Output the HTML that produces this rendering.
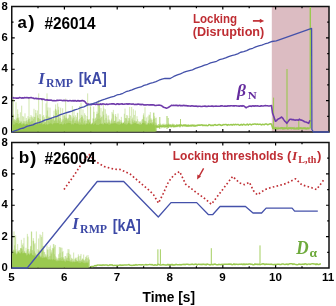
<!DOCTYPE html>
<html><head><meta charset="utf-8"><style>
html,body{margin:0;padding:0;background:#fff;width:336px;height:306px;overflow:hidden}
svg{display:block;will-change:transform}
text{font-family:"Liberation Sans",sans-serif}
.tk{font-family:"Liberation Sans",sans-serif;font-weight:bold;font-size:11px}
.sb{font-family:"Liberation Sans",sans-serif;font-weight:bold}
.sbi{font-family:"Liberation Serif",serif;font-weight:bold;font-style:italic}
.srb{font-family:"Liberation Serif",serif;font-weight:bold}
</style></head><body>
<svg width="336" height="306" viewBox="0 0 336 306">
<rect width="336" height="306" fill="#fff"/>
<rect x="271.8" y="6.5" width="57.2" height="125.5" fill="#dcbcc2"/>
<rect x="11.75" y="6.5" width="317.25" height="125.5" fill="none" stroke="#111" stroke-width="1.5"/>
<path d="M38 6.5v1.8M38 132v-1.8M64.4 6.5v3M64.4 132v-3M90.8 6.5v1.8M90.8 132v-1.8M117.2 6.5v3M117.2 132v-3M143.6 6.5v1.8M143.6 132v-1.8M170 6.5v3M170 132v-3M196.4 6.5v1.8M196.4 132v-1.8M222.8 6.5v3M222.8 132v-3M249.2 6.5v1.8M249.2 132v-1.8M275.6 6.5v3M275.6 132v-3M302 6.5v1.8M302 132v-1.8M11.75 116.31h1.8M329 116.31h-1.8M11.75 100.62h3M329 100.62h-3M11.75 84.94h1.8M329 84.94h-1.8M11.75 69.25h3M329 69.25h-3M11.75 53.56h1.8M329 53.56h-1.8M11.75 37.88h3M329 37.88h-3M11.75 22.19h1.8M329 22.19h-1.8" stroke="#000" stroke-width="1.2" fill="none"/>
<text x="7.9" y="135.2" text-anchor="end" class="tk" style="font-size:11.3px">0</text>
<text x="7.9" y="103.83" text-anchor="end" class="tk" style="font-size:11.3px">2</text>
<text x="7.9" y="72.45" text-anchor="end" class="tk" style="font-size:11.3px">4</text>
<text x="7.9" y="41.08" text-anchor="end" class="tk" style="font-size:11.3px">6</text>
<text x="7.9" y="9.7" text-anchor="end" class="tk" style="font-size:11.3px">8</text>
<rect x="11.75" y="142.5" width="317.25" height="125.5" fill="none" stroke="#111" stroke-width="1.5"/>
<path d="M38 142.5v1.8M38 268v-1.8M64.4 142.5v3M64.4 268v-3M90.8 142.5v1.8M90.8 268v-1.8M117.2 142.5v3M117.2 268v-3M143.6 142.5v1.8M143.6 268v-1.8M170 142.5v3M170 268v-3M196.4 142.5v1.8M196.4 268v-1.8M222.8 142.5v3M222.8 268v-3M249.2 142.5v1.8M249.2 268v-1.8M275.6 142.5v3M275.6 268v-3M302 142.5v1.8M302 268v-1.8M11.75 252.31h1.8M329 252.31h-1.8M11.75 236.62h3M329 236.62h-3M11.75 220.94h1.8M329 220.94h-1.8M11.75 205.25h3M329 205.25h-3M11.75 189.56h1.8M329 189.56h-1.8M11.75 173.88h3M329 173.88h-3M11.75 158.19h1.8M329 158.19h-1.8" stroke="#000" stroke-width="1.2" fill="none"/>
<text x="7.9" y="271.2" text-anchor="end" class="tk" style="font-size:11.3px">0</text>
<text x="7.9" y="239.82" text-anchor="end" class="tk" style="font-size:11.3px">2</text>
<text x="7.9" y="208.45" text-anchor="end" class="tk" style="font-size:11.3px">4</text>
<text x="7.9" y="177.07" text-anchor="end" class="tk" style="font-size:11.3px">6</text>
<text x="7.9" y="145.7" text-anchor="end" class="tk" style="font-size:11.3px">8</text>
<text x="11.4" y="281.2" text-anchor="middle" class="tk" style="font-size:11.6px">5</text>
<text x="64.2" y="281.2" text-anchor="middle" class="tk" style="font-size:11.6px">6</text>
<text x="117" y="281.2" text-anchor="middle" class="tk" style="font-size:11.6px">7</text>
<text x="169.8" y="281.2" text-anchor="middle" class="tk" style="font-size:11.6px">8</text>
<text x="222.6" y="281.2" text-anchor="middle" class="tk" style="font-size:11.6px">9</text>
<text x="275.4" y="281.2" text-anchor="middle" class="tk" style="font-size:11.6px">10</text>
<text x="328.2" y="281.2" text-anchor="middle" class="tk" style="font-size:11.6px">11</text>
<path d="M12.67 131.4V120.32M13 131.4V121.03M13.34 131.4V96.43M13.67 131.4V114.53M14 131.4V119.29M14.34 131.4V119.38M14.67 131.4V121.51M15 131.4V120.15M15.34 131.4V121.9M15.67 131.4V120.13M16 131.4V102.25M16.35 131.4V118.78M16.68 131.4V121.07M17 131.4V117.58M17.35 131.4V118.28M17.68 131.4V109.36M18 131.4V114.06M18.35 131.4V118.17M18.68 131.4V119.76M19 131.4V117.26M19.35 131.4V120.71M19.68 131.4V123.03M20 131.4V123.43M20.35 131.4V112.28M20.68 131.4V122.28M21 131.4V120.92M21.35 131.4V121.79M21.68 131.4V105.66M22 131.4V124.31M22.35 131.4V122.87M22.68 131.4V116.12M23 131.4V123.73M23.35 131.4V121.28M23.68 131.4V116.63M24 131.4V123.29M24.35 131.4V123.4M24.68 131.4V121.22M25 131.4V113.32M25.35 131.4V121.34M25.68 131.4V123.91M26 131.4V124.63M26.35 131.4V117.96M26.68 131.4V121.02M27 131.4V120.12M27.35 131.4V123.46M27.68 131.4V121.9M28 131.4V116.17M28.35 131.4V119.78M28.68 131.4V118.66M29 131.4V96.82M29.35 131.4V121.69M29.68 131.4V118.83M30 131.4V117.08M30.35 131.4V121.71M30.68 131.4V122.1M31 131.4V115.03M31.35 131.4V121.16M31.68 131.4V116.45M32 131.4V120.75M32.34 131.4V117.7M32.68 131.4V120.92M33.01 131.4V116.55M33.35 131.4V123.4M33.68 131.4V118.83M34.01 131.4V108.75M34.35 131.4V116.99M34.68 131.4V123.02M35.01 131.4V116.9M35.35 131.4V123.24M35.68 131.4V109.98M36.01 131.4V113.12M36.35 131.4V123.31M36.68 131.4V122.94M37.01 131.4V122.93M37.35 131.4V110.51M37.68 131.4V115.4M38.01 131.4V117.98M38.35 131.4V117.87M38.68 131.4V93.4M39.01 131.4V123.78M39.35 131.4V118.85M39.68 131.4V114.2M40.01 131.4V121.9M40.35 131.4V119.13M40.68 131.4V114.33M41.01 131.4V120.71M41.35 131.4V122.85M41.68 131.4V120.86M42.01 131.4V122.35M42.35 131.4V97.92M42.68 131.4V116.25M43.01 131.4V120.15M43.35 131.4V124.2M43.68 131.4V115.03M44.01 131.4V119.3M44.35 131.4V117.26M44.68 131.4V122.53M45.01 131.4V122.33M45.35 131.4V122.44M45.68 131.4V121.66M46.01 131.4V103.39M46.35 131.4V115.53M46.68 131.4V119.15M47.01 131.4V93.4M47.35 131.4V110.49M47.68 131.4V124.69M48.01 131.4V107.41M48.35 131.4V116.67M48.68 131.4V121.32M49.01 131.4V117.42M49.35 131.4V116.8M49.68 131.4V121.65M50.01 131.4V107.67M50.35 131.4V117.49M50.68 131.4V117.44M51.01 131.4V120.41M51.35 131.4V117.31M51.68 131.4V118.12M52.01 131.4V118.68M52.35 131.4V119.61M52.68 131.4V118.77M53.01 131.4V123.95M53.35 131.4V117.87M53.68 131.4V115.19M54.01 131.4V110.65M54.35 131.4V120.77M54.68 131.4V120.81M55.01 131.4V119.8M55.35 131.4V108.74M55.68 131.4V104.46M56.01 131.4V109.33M56.35 131.4V112.9M56.68 131.4V110.61M57.01 131.4V120.78M57.35 131.4V122.84M57.68 131.4V103.32M58.01 131.4V119.2M58.35 131.4V109.8M58.68 131.4V106.73M59.01 131.4V119.6M59.35 131.4V114.7M59.68 131.4V121.15M60.01 131.4V118.08M60.35 131.4V118.14M60.68 131.4V107.71M61.01 131.4V123.9M61.35 131.4V122.17M61.68 131.4V121.75M62.01 131.4V119.4M62.35 131.4V120.75M62.68 131.4V108.28M63.01 131.4V124.08M63.35 131.4V118.99M63.68 131.4V115.45M64 131.4V120.89M64.34 131.4V114.48M64.67 131.4V115.86M65 131.4V117.78M65.34 131.4V119.78M65.67 131.4V98.57M66 131.4V117.92M66.34 131.4V117.5M66.67 131.4V111.56M67 131.4V118.84M67.34 131.4V118.7M67.67 131.4V119.69M68 131.4V121.22M68.34 131.4V117.71M68.67 131.4V118.49M69 131.4V114.52M69.34 131.4V120.61M69.67 131.4V114.71M70 131.4V115.1M70.34 131.4V121.03M70.67 131.4V115.01M71 131.4V116.22M71.34 131.4V121.15M71.67 131.4V123.53M72 131.4V117.51M72.34 131.4V105.94M72.67 131.4V119.31M73 131.4V120.53M73.34 131.4V117.88M73.67 131.4V115.66M74 131.4V109.37M74.34 131.4V124.08M74.67 131.4V117.22M75 131.4V121.3M75.34 131.4V120.64M75.67 131.4V115.27M76 131.4V122.98M76.34 131.4V119.48M76.67 131.4V117.16M77 131.4V121.4M77.34 131.4V112.89M77.67 131.4V112.84M78 131.4V120.96M78.34 131.4V123.16M78.67 131.4V122.08M79 131.4V120.32M79.34 131.4V119.03M79.67 131.4V105.99M80 131.4V122.67M80.34 131.4V122.53M80.67 131.4V117.89M81 131.4V102.83M81.34 131.4V114.9M81.67 131.4V116.88M82 131.4V120.13M82.34 131.4V117.27M82.67 131.4V115.55M83 131.4V109.37M83.34 131.4V122.53M83.67 131.4V118.53M84 131.4V123.19M84.34 131.4V120.96M84.67 131.4V113.27M85 131.4V120.39M85.34 131.4V114.96M85.67 131.4V123.38M86 131.4V124.58M86.34 131.4V120.7M86.67 131.4V123.45M87 131.4V116.06M87.34 131.4V119.06M87.67 131.4V93.4M88 131.4V120.87M88.34 131.4V119.43M88.67 131.4V120.18M89 131.4V119.79M89.34 131.4V118.97M89.67 131.4V122.21M90 131.4V121.53M90.34 131.4V105.69M90.67 131.4V106.97M91 131.4V124M91.34 131.4V123.55M91.67 131.4V123.65M92 131.4V124.19M92.34 131.4V122.61M92.67 131.4V122.79M93 131.4V118.25M93.34 131.4V118.88M93.67 131.4V106.66M94 131.4V111.84M94.34 131.4V122.37M94.67 131.4V121.23M95 131.4V119.03M95.34 131.4V118.09M95.67 131.4V121.1M96 131.4V117.33M96.34 131.4V120.08M96.67 131.4V114.1M97 131.4V111.59M97.34 131.4V113.81M97.67 131.4V118.7M98 131.4V101.31M98.34 131.4V113.17M98.67 131.4V100.03M99 131.4V119.07M99.34 131.4V105.76M99.67 131.4V102.89M100 131.4V115.31M100.34 131.4V119.85M100.67 131.4V117.96M101 131.4V107.97M101.34 131.4V116.87M101.67 131.4V123.6M102 131.4V116.55M102.34 131.4V122.89M102.67 131.4V111.39M103 131.4V124.08M103.34 131.4V103.96M103.67 131.4V114.82M104 131.4V108.49M104.34 131.4V124.24M104.67 131.4V119.78M105 131.4V122.48M105.34 131.4V109.22M105.67 131.4V123.41M106 131.4V118.03M106.34 131.4V113.72M106.67 131.4V122.34M107 131.4V115.55M107.34 131.4V122.73M107.67 131.4V123.41M108 131.4V119.68M108.34 131.4V122.62M108.67 131.4V115.4M109 131.4V121.87M109.34 131.4V119.59M109.67 131.4V122.88M110 131.4V120.68M110.34 131.4V122.63M110.67 131.4V123.62M111 131.4V123.83M111.34 131.4V120.41M111.67 131.4V118.6M112 131.4V111.93M112.34 131.4V123.18M112.67 131.4V113.6M113 131.4V121.76M113.34 131.4V109.88M113.67 131.4V114.44M114 131.4V123.43M114.34 131.4V121M114.67 131.4V121.12M115 131.4V120.61M115.34 131.4V115.92M115.67 131.4V114.03M116 131.4V123.02M116.34 131.4V122.7M116.67 131.4V116.88M117 131.4V121.68M117.34 131.4V122.69M117.67 131.4V121.77M118 131.4V113.47M118.34 131.4V121.7M118.67 131.4V121.41M119 131.4V122.94M119.34 131.4V119.15M119.67 131.4V121.72M120 131.4V120.3M120.34 131.4V122.21M120.67 131.4V124.22M121 131.4V120.14M121.34 131.4V116.82M121.67 131.4V121.66M122 131.4V122.88M122.34 131.4V122.65M122.67 131.4V123.83M123 131.4V123.84M123.34 131.4V122.86M123.67 131.4V122.46M124 131.4V122.52M124.34 131.4V113.74M124.67 131.4V121.14M125 131.4V108.58M125.34 131.4V118.03M125.67 131.4V122.8M126 131.4V118.21M126.34 131.4V118.41M126.67 131.4V115.01M127 131.4V122.98M127.34 131.4V124.74M127.67 131.4V115.46M128 131.4V120.51M128.34 131.4V121.26M128.67 131.4V118.03M129 131.4V122.62M129.34 131.4V118.21M129.67 131.4V106.94M130 131.4V120.61M130.34 131.4V115.84M130.67 131.4V123.25M131 131.4V124.46M131.34 131.4V124.46M131.67 131.4V106.99M132 131.4V119.15M132.34 131.4V121.56M132.67 131.4V117.56M133 131.4V120.11M133.34 131.4V109.22M133.67 131.4V121.9M134 131.4V122.69M134.34 131.4V114.93M134.67 131.4V120.48M135 131.4V120.82M135.34 131.4V110.53M135.67 131.4V122.62M136 131.4V121.41M136.34 131.4V122.2M136.67 131.4V121.04M137 131.4V116.19M137.34 131.4V124.06M137.67 131.4V119.24M138 131.4V123.09M138.34 131.4V123.91M138.67 131.4V121.2M139 131.4V123.54M139.34 131.4V123.98M139.67 131.4V122.06M140 131.4V121.21M140.34 131.4V123.17M140.67 131.4V122.74M141 131.4V121.41M141.34 131.4V124.59M141.67 131.4V124.18M142 131.4V119.84M142.34 131.4V118.89M142.67 131.4V122.67M143 131.4V119.35M143.34 131.4V115.21M143.67 131.4V113.35M144 131.4V116.81M144.34 131.4V120.43M144.67 131.4V121.32M145 131.4V107.28M145.34 131.4V122.98M145.67 131.4V120.92M146 131.4V121.51M146.34 131.4V117.48M146.67 131.4V124.21M147 131.4V124.66M147.34 131.4V122.53M147.67 131.4V123.49M148 131.4V116.39M148.34 131.4V124.22M148.67 131.4V120.53M149 131.4V114.54M149.34 131.4V122.82M149.67 131.4V115.11M150 131.4V119.53M150.34 131.4V112.07M150.67 131.4V123.05M151 131.4V118.11M151.34 131.4V122.89M151.67 131.4V119.46M152 131.4V119.97M152.34 131.4V123.03M152.67 131.4V122.25M153 131.4V122.31M153.34 131.4V118.77M153.67 131.4V123.58M154 131.4V123.98M154.34 131.4V118.97M154.67 131.4V116.3M155 131.4V122.43M155.34 131.4V118.06M155.67 131.4V124.85M156 131.4V122.91M156.34 131.4V117.63" stroke="#9ac94f" stroke-width="0.45" fill="none"/>
<polygon points="12.45,131.4 12.45,124.49 13.45,124.44 14.45,124.69 15.45,123.32 16.45,123.05 17.45,123.05 18.45,124.35 19.45,123.49 20.45,122.85 21.45,124.38 22.45,124.69 23.45,123.41 24.45,124.85 25.45,124.93 26.45,123.85 27.45,124.05 28.45,125 29.45,123.61 30.45,124.89 31.45,124.21 32.45,124.96 33.45,124.6 34.45,124.04 35.45,124.52 36.45,124.4 37.45,123.24 38.45,124.67 39.45,122.94 40.45,124.26 41.45,122.99 42.45,124.64 43.45,124.26 44.45,123.82 45.45,125.01 46.45,124.07 47.45,124.87 48.45,124.23 49.45,123.78 50.45,123.26 51.45,123.44 52.45,124.86 53.45,123.25 54.45,123.24 55.45,123.28 56.45,123.13 57.45,123.23 58.45,122.92 59.45,124.46 60.45,124.08 61.45,123.47 62.45,124.69 63.45,124.61 64.45,122.88 65.45,124.54 66.45,123.28 67.45,123.18 68.45,122.86 69.45,123.1 70.45,123 71.45,124.82 72.45,124.04 73.45,124.76 74.45,122.91 75.45,123.21 76.45,123.91 77.45,123.61 78.45,124.28 79.45,124.63 80.45,124.43 81.45,124.23 82.45,124.77 83.45,124.6 84.45,124.13 85.45,124.96 86.45,123.6 87.45,123.39 88.45,124.59 89.45,122.87 90.45,124.5 91.45,124.72 92.45,123.21 93.45,124.93 94.45,124.08 95.45,123 96.45,125.02 97.45,124.64 98.45,124.89 99.45,124.13 100.45,123.62 101.45,123.98 102.45,124.25 103.45,124.82 104.45,122.83 105.45,123.66 106.45,124.27 107.45,123.78 108.45,124.42 109.45,124.68 110.45,124.49 111.45,123.38 112.45,123.74 113.45,123.57 114.45,123.27 115.45,123.17 116.45,123.98 117.45,124.25 118.45,124.56 119.45,124.86 120.45,124.24 121.45,122.93 122.45,124.08 123.45,122.78 124.45,124.36 125.45,124.25 126.45,124.85 127.45,124.19 128.45,123.11 129.45,123.21 130.45,124.57 131.45,124.61 132.45,124.32 133.45,123.61 134.45,123.25 135.45,123.01 136.45,124.09 137.45,124.11 138.45,124.32 139.45,124.96 140.45,124.79 141.45,124.59 142.45,122.89 143.45,122.82 144.45,123.14 145.45,124.42 146.45,124.7 147.45,124.9 148.45,122.86 149.45,124.73 150.45,123.06 151.45,123.9 152.45,124.71 153.45,124.1 154.45,125.79 155.45,124.87 155.45,131.4" fill="#9ac94f"/>
<polyline points="155.5,127 156.62,126.75 157.75,126.67 158.88,126.87 160,126.2 161,126.14 162,126.16 163,126.23 164,125.76 165,126.1 166,126.21 167,126.36 168,125.57 169,125.78 170,125.52 171,126.29 172,126.14 173,125.4 174,126.42 175,126.37 176,126.01 177,125.94 178,125.42 179,125.24 180,125.78 181,125.24 182,125.36 183,125.4 184,125.14 185,125.6 186,125.55 187,125.97 188,125.59 189,125.7 190,125.52 191,125.68 192,125.43 193,125.21 194,125.98 195,125.96 196,125.76 197,125.6 198,125.14 199,125.03 200,125.3 201.01,125.05 202.01,124.8 203.02,125.55 204.03,125.13 205.04,125.6 206.04,125.08 207.05,125.7 208.06,125.56 209.06,124.61 210.07,124.83 211.08,125.58 212.08,125.08 213.09,125.63 214.1,124.97 215.11,124.6 216.11,125.19 217.12,125.34 218.13,124.77 219.13,124.55 220.14,124.81 221.15,125.49 222.15,125.24 223.16,124.52 224.17,124.65 225.18,124.47 226.18,124.41 227.19,125.21 228.2,124.51 229.2,124.92 230.21,124.78 231.22,124.48 232.23,125.06 233.23,124.38 234.24,124.93 235.25,124.34 236.25,124.66 237.26,124.41 238.27,124.46 239.27,125.21 240.28,125.01 241.29,124.45 242.3,125.07 243.3,124.32 244.31,124.5 245.32,124.99 246.32,124.74 247.33,124.13 248.34,125.09 249.35,124.23 250.35,124.26 251.36,124.81 252.37,124.31 253.37,124.25 254.38,123.99 255.39,124 256.39,124.52 257.4,124.13 258.41,124.51 259.42,124.24 260.42,124.32 261.43,124.86 262.44,124.32 263.44,124.41 264.45,124.71 265.46,123.94 266.46,123.9 267.47,124.71 268.48,124.6 269.49,123.96 270.49,123.87 271.5,124.2 272.8,128.3 273.82,128.57 274.84,128.8 275.86,127.99 276.88,128.83 277.9,128.76 278.92,128.46 279.94,128.27 280.96,127.93 281.98,127.87 282.99,128.89 284.01,128.1 285.03,128.63 286.05,128.14 287.07,128.77 288.09,128.53 289.11,128.21 290.13,128.08 291.15,128.69 292.17,127.98 293.19,128.17 294.21,128.54 295.23,128.87 296.25,128.62 297.27,128.26 298.29,128.97 299.31,128.19 300.32,127.99 301.34,128.28 302.36,128.48 303.38,128.07 304.4,128.2 305.42,128.42 306.44,128.65 307.46,128.18 308.48,128.44 309.5,128.6" fill="none" stroke="#9ac94f" stroke-width="1.5"/>
<path d="M156 125.2V126.98M156.5 124.51V128M157 124.96V126.96M157.5 124.8V128.1M158 124.95V128.04M158.5 124.04V126.96M159 124.26V127.49M159.5 124.48V128.43M160 125.03V126.71M160.5 123.57V127.36M161 124.85V127.22M161.5 124.56V128.26M162 124.83V126.99M162.5 124.2V127.53M163 123.59V128M163.5 124.58V126.93M164 123.79V128.2M164.5 125.12V127.76M165 123.75V127.61M165.5 124.81V127.82M166 123.99V126.84M166.5 124.13V126.86M167 125.08V127.03M167.5 124.62V127.11M168 124.14V127.78M168.5 123.66V127.97M169 123.61V127.66M169.5 124.67V126.71M170 124.19V127.25M170.5 124.12V126.55M171 124.84V127.77M171.5 124.23V127.41M172 124.98V126.96M172.5 123.79V127.31M173 123.68V126.63M173.5 124.46V127.48M174 124.47V127.45M174.5 124.31V126.48M175 124.96V127.67M175.5 124.93V126.55M176 124.63V127.25M176.5 123.93V126.9M177 124.42V127.3M177.5 124.72V126.72M178 124.28V127.05M178.5 125.03V126.35M179 124.9V127.12M179.5 124.2V127.41M180 124.11V126.48M180.5 124.12V127.37M181 124.64V126.14M181.5 124.62V126.46M182 124.86V126.16M182.5 124.92V127.12M183 125.01V126.8M183.5 124.82V126.29M184 124.12V126.39M184.5 124.85V126.55M185 124.28V126.61M185.5 124.11V126.45M186 124.48V126.77M186.5 124.56V126.75M187 124.55V126.11M187.5 124.92V126.77M188 124.28V126.91M188.5 124.34V126.51M189 124.88V126.77M189.5 124.92V126.32M190 124.9V126.25M190.5 124.74V126.28M191 124.36V126.37M191.5 124.81V126.57M192 124.35V126.59M192.5 125V126.37M193 124.23V126.03M193.5 124.85V126.5M194 124.71V126.12M194.5 124.32V126.08M195 124.85V125.92M195.5 124.73V126.3M196 124.72V126.34M196.5 124.96V125.9M197 124.52V126.06M197.5 124.62V126.39M198 124.8V125.79M198.5 124.98V126M199 124.79V125.97M199.5 125V125.61M200 124.73V126.13" stroke="#9ac94f" stroke-width="0.5" fill="none"/>
<path d="M272.5 127.5V128.63M273 127.29V129.31M273.5 127.1V129.14M274 127.5V128.93M274.5 126.78V128.95M275 126.68V129.31M275.5 127.25V128.45M276 126.88V128.58M276.5 127.61V129.18M277 126.8V129.29M277.5 126.7V128.67M278 127.56V128.6M278.5 126.69V128.59M279 127.49V128.51M279.5 127.61V128.53M280 127.32V128.66M280.5 127.36V129.42M281 127.51V129.31M281.5 126.95V129.07M282 127.12V129.28M282.5 127.11V128.75M283 127.37V128.77M283.5 127.31V129.51M284 127.29V128.61M284.5 127.24V129.35M285 127.28V129.24M285.5 127.63V128.62M286 127.08V128.61M286.5 127.44V128.95M287 127.55V128.61M287.5 127.74V129.51M288 127.07V129.52M288.5 127.27V129.53M289 126.91V129.2M289.5 127.25V129.1M290 127.55V128.98M290.5 127.07V128.81M291 126.95V129.12M291.5 127.19V129.43M292 127.16V128.77M292.5 127.55V128.64M293 127.77V129.57M293.5 127.23V129.6M294 127.05V128.96M294.5 126.87V129.56M295 127.38V128.74M295.5 127.52V128.83M296 127.48V128.75M296.5 127.14V129.64M297 127.64V129.45M297.5 127.28V129.16M298 126.97V129.07M298.5 127.06V128.74M299 126.92V128.89M299.5 127.87V129.58M300 127.17V129.38M300.5 127.13V129.09M301 127.78V129.04M301.5 126.96V129.7M302 127.67V129.17M302.5 127.46V129.63M303 127.9V129.56M303.5 127.67V129.29M304 127.79V128.84M304.5 127.06V129.26M305 126.98V129.62M305.5 127.2V128.85M306 127.36V129.75M306.5 127.45V128.85M307 127.77V129.76M307.5 127V129.04M308 127.65V129.5M308.5 127.47V128.99M309 127.01V129.42M309.5 127.62V128.84" stroke="#9ac94f" stroke-width="0.5" fill="none"/>
<path d="M12.5 266.93V267.07M13 266.91V267.05M13.5 266.92V267.09M14 266.91V267.04M14.5 266.92V267.07M15 266.93V267.1M15.5 266.93V267.06M16 266.9V267.07M16.5 266.95V267.05M17 266.94V267.03M17.5 266.93V267.08M18 266.94V267.09M18.5 266.91V267.07M19 266.92V267.04M19.5 266.97V267.1M20 266.95V267.04M20.5 266.91V267.08M21 266.96V267.05M21.5 266.95V267.05M22 266.97V267.07M22.5 266.95V267.06M23 266.96V267.04M23.5 266.97V267.09M24 266.92V267.07M24.5 266.96V267.04M25 266.96V267.05M25.5 266.97V267.05M26 266.96V267.04M26.5 266.92V267.06M27 266.94V267.06" stroke="#9ac94f" stroke-width="0.1" fill="none"/>
<line x1="153.8" y1="128" x2="153.8" y2="112.7" stroke="#9ac94f" stroke-width="0.9"/>
<line x1="159.8" y1="129" x2="159.8" y2="117" stroke="#9ac94f" stroke-width="0.8"/>
<line x1="167" y1="129" x2="167" y2="116" stroke="#9ac94f" stroke-width="0.9"/>
<line x1="168.2" y1="128" x2="168.2" y2="118" stroke="#9ac94f" stroke-width="0.7"/>
<line x1="180.5" y1="125" x2="180.5" y2="119" stroke="#9ac94f" stroke-width="0.8"/>
<line x1="273.6" y1="128" x2="273.6" y2="97.6" stroke="#9ac94f" stroke-width="1"/>
<line x1="287" y1="128" x2="287" y2="69" stroke="#9ac94f" stroke-width="1.1"/>
<line x1="310.3" y1="7" x2="310.3" y2="128.5" stroke="#9ac94f" stroke-width="1.4"/>
<line x1="298.8" y1="120" x2="298.8" y2="128" stroke="#9ac94f" stroke-width="1"/>
<polyline points="12.25,97.8 13.29,97.89 14.34,97.97 15.38,98.01 16.43,98.11 17.47,97.97 18.51,98.1 19.56,97.47 20.6,97.78 21.65,98.11 22.69,97.9 23.74,98.08 24.78,97.53 25.82,97.78 26.87,97.62 27.91,97.83 28.96,97.85 30,97.8 31,97.58 32,97.84 33,98 34,98.56 35,98.58 36,98.27 37,98.84 38,98.49 39,98.95 40,98.72 41,98.75 42,99.48 43,99.13 44,99.26 45,99.91 46,99.95 47,99.66 48,100.25 49,100.07 50,100.29 51,100.08 52,100.4 53,100.73 54,100.57 55,100.78 56,100.75 57,100.35 58,100.42 59,100.3 60,100.3 61,100.26 62,100.45 63,100.68 64,100.28 65,100.77 66,100.55 67,100.55 68,100.92 69,100.71 70,100.61 71,100.74 72,100.92 73,100.48 74,101.15 75,100.5 76,101.02 77,101.11 78,100.55 79,101.11 80,100.83 81,101 82,100.62 83,100.66 84,101 85.17,101.88 86.33,103.52 87.5,104.3 88.51,104.08 89.52,104.46 90.54,104.58 91.55,104.58 92.56,104.16 93.57,104.16 94.58,104.27 95.6,104.44 96.61,103.96 97.62,104.4 98.63,104.43 99.64,104.47 100.65,103.88 101.67,104.51 102.68,103.91 103.69,104.07 104.7,104.26 105.71,104.46 106.73,104.05 107.74,104.45 108.75,104.18 109.76,104.01 110.77,104.01 111.79,103.9 112.8,103.83 113.81,103.87 114.82,104.24 115.83,104.45 116.85,103.86 117.86,103.77 118.87,104.42 119.88,104.09 120.89,104 121.9,103.87 122.92,104.12 123.93,104.27 124.94,104 125.95,103.97 126.96,103.71 127.98,104.31 128.99,103.68 130,104 131,104.04 132,104.32 133,103.87 134,104.34 135,104.53 136,104.35 137,104.5 138,104.07 139,104.34 140,104.19 141,104.72 142,104.38 143,104.53 144,104.96 145,104.9 146,105.03 147,104.7 148,104.77 149,104.98 150,104.85 151,104.76 152,104.89 153,104.75 154,104.95 155,105.43 156,105.45 157,105.26 158,105.21 159,105.14 160,105.3 161.08,105.51 162.17,106.14 163.25,107 164.33,107.56 165.42,107.7 166.5,108.3 167.54,107.88 168.58,107.25 169.62,106.58 170.66,105.93 171.7,105.2 172.71,105.42 173.72,105.18 174.73,105.45 175.74,105.19 176.75,105.37 177.76,105.6 178.77,105.58 179.79,105.34 180.8,105.83 181.81,105.66 182.82,105.65 183.83,105.29 184.84,105.7 185.85,105.53 186.86,105.86 187.87,105.75 188.88,106.03 189.89,105.95 190.9,106.09 191.91,105.81 192.93,106.05 193.94,106.15 194.95,106.25 195.96,105.95 196.97,106.33 197.98,106.39 198.99,106.3 200,106.2 201,106.53 202,106.51 203,106.2 204,106.2 205,105.94 206,106.41 207,106.47 208,106.15 209,106.29 210,106.31 211,106.31 212,105.92 213,106.34 214,106.19 215,106.25 216,106.07 217,106.21 218,106.31 219,106.21 220,106.26 221,105.77 222,105.86 223,106.05 224,106.2 225,105.89 226,106.21 227,106.17 228,105.75 229,106.05 230,105.87 231,105.75 232,105.8 233,105.92 234,105.82 235,105.83 236,105.71 237,106.01 238,105.94 239,106.1 240,106.08 241,105.83 242,106.29 243,105.66 244,106 245,106.83 246,107.8 247,107.11 248,106.67 249,106.2 250.02,105.9 251.05,106.38 252.07,106.03 253.09,105.77 254.11,106.14 255.14,105.75 256.16,106.04 257.18,105.87 258.2,106.01 259.23,106.25 260.25,106.12 261.27,105.82 262.3,106.06 263.32,105.92 264.34,105.7 265.36,105.51 266.39,105.8 267.41,105.75 268.43,106 269.45,105.98 270.48,105.7 271.5,105.6 272.5,113 273.95,117 275.4,121.2 276.43,120.78 277.47,119.45 278.5,118.83 279.53,118.45 280.57,117.78 281.6,117 282.64,118.01 283.68,119.61 284.72,121.05 285.76,121.95 286.8,123.3 287.87,121.89 288.93,120.38 290,119.2 291.04,119.18 292.07,119.78 293.11,119.49 294.15,120.02 295.19,120.11 296.23,120.02 297.26,119.91 298.3,120.2 299.3,119.2 300.34,119.99 301.39,120.11 302.43,120.51 303.48,120.9 304.52,121.82 305.57,121.93 306.61,122.24 307.66,122.83 308.7,123.3 310,120.2" fill="none" stroke="#6f3aaa" stroke-width="1.6" stroke-linejoin="round"/>
<polyline points="11.75,132 14.75,130.92 17.76,129.82 20.76,128.62 23.77,128.01 26.77,126.44 29.78,125.68 32.78,124.87 35.79,123.32 38.79,122.56 41.8,121.54 44.8,120.14 47.81,119.29 50.81,118.43 53.82,117.23 56.82,116.34 59.83,114.95 62.83,113.94 65.84,112.81 68.84,112 71.85,111.2 74.85,109.94 77.86,109 80.86,107.71 83.87,106.88 86.87,105.44 89.88,104.5 92.88,103.68 95.89,102.65 98.89,101.42 101.9,100.16 104.9,99.22 107.91,98.13 110.91,97.12 113.92,96.39 116.92,94.97 119.93,94.33 122.93,93.27 125.94,91.72 128.94,90.86 131.95,89.88 134.95,88.54 137.96,87.73 140.96,86.97 143.97,85.44 146.97,84.68 149.98,83.34 152.98,82.56 155.99,81.7 158.99,80.23 162,79.06 165,78.3 170.2,78.5 173.8,76.45 177.4,74.9 180.41,73.86 183.43,72.47 186.44,71.45 189.45,70.63 192.46,69.81 195.48,68.45 198.49,67.36 201.5,66.44 204.52,65.05 207.53,64.27 210.54,62.96 213.55,62.15 216.57,61.29 219.58,59.68 222.59,58.92 225.61,57.88 228.62,56.54 231.63,55.54 234.65,54.91 237.66,53.84 240.67,52.25 243.68,51.53 246.7,50.61 249.71,49.12 252.72,48.27 255.74,46.86 258.75,45.99 261.76,45.11 264.77,43.99 267.79,43.03 270.8,41.8 272,41.5 276.3,40.9 311.6,28.4 311.9,129.5 313.5,132 329,132" fill="none" stroke="#4451aa" stroke-width="1.3" stroke-linejoin="round"/>
<path d="M12.67 267.4V252.43M13 267.4V250.09M13.34 267.4V253.31M13.67 267.4V249.63M14 267.4V231.4M14.34 267.4V250.43M14.67 267.4V245.36M15 267.4V237.4M15.34 267.4V250.75M15.67 267.4V235.37M16 267.4V249.28M16.35 267.4V252.66M16.68 267.4V253.53M17 267.4V254.36M17.35 267.4V250.96M17.68 267.4V244.05M18 267.4V252.65M18.35 267.4V252.07M18.68 267.4V250.95M19 267.4V250.28M19.35 267.4V250.08M19.68 267.4V252.42M20 267.4V253.04M20.35 267.4V248.41M20.68 267.4V248.11M21 267.4V248.12M21.35 267.4V239.82M21.68 267.4V248.43M22 267.4V248.88M22.35 267.4V244.89M22.68 267.4V250.71M23 267.4V243.3M23.35 267.4V252.98M23.68 267.4V246.63M24 267.4V237.85M24.35 267.4V251.91M24.68 267.4V250.93M25 267.4V252.86M25.35 267.4V253.04M25.68 267.4V252.85M26 267.4V247.8M26.35 267.4V252.8M26.68 267.4V254.17M27 267.4V250.38M27.35 267.4V233.86M27.68 267.4V249M28 267.4V236.58M28.35 267.4V254.25M28.68 267.4V249.04M29 267.4V253.03M29.35 267.4V251.45M29.68 267.4V254.19M30 267.4V254.55M30.35 267.4V249.25M30.68 267.4V246.42M31 267.4V245.78M31.35 267.4V231.4M31.68 267.4V231.82M32 267.4V250.52M32.34 267.4V249.97M32.68 267.4V255.02M33.01 267.4V240.72M33.35 267.4V238.15M33.68 267.4V241.05M34.01 267.4V252.3M34.35 267.4V250.86M34.68 267.4V244.26M35.01 267.4V242.94M35.35 267.4V252.92M35.68 267.4V254.32M36.01 267.4V255.06M36.35 267.4V231.4M36.68 267.4V255.05M37.01 267.4V254.43M37.35 267.4V254.24M37.68 267.4V249.21M38.01 267.4V256.75M38.35 267.4V251.51M38.68 267.4V238.45M39.01 267.4V250.08M39.35 267.4V254.65M39.68 267.4V250.91M40.01 267.4V234.33M40.35 267.4V255.78M40.68 267.4V257.36M41.01 267.4V235.17M41.35 267.4V255.66M41.68 267.4V236.91M42.01 267.4V250.52M42.35 267.4V249.55M42.68 267.4V231.94M43.01 267.4V246.13M43.35 267.4V256.42M43.68 267.4V246.01M44.01 267.4V251.91M44.35 267.4V257.37M44.68 267.4V252.21M45.01 267.4V256.92M45.35 267.4V254.21M45.68 267.4V256.38M46.01 267.4V254.71M46.35 267.4V256.88M46.68 267.4V256.45M47.01 267.4V245.31M47.35 267.4V249.45M47.68 267.4V254.53M48.01 267.4V249.73M48.35 267.4V256.98M48.68 267.4V259.26M49.01 267.4V247.03M49.35 267.4V256.13M49.68 267.4V259.03M50.01 267.4V249.07M50.35 267.4V245.44M50.68 267.4V255.84M51.01 267.4V252.47M51.35 267.4V254.1M51.68 267.4V250.33M52.01 267.4V252.54M52.35 267.4V247.95M52.68 267.4V258.92M53.01 267.4V248.79M53.35 267.4V243.96M53.68 267.4V248.22M54.01 267.4V244.35M54.35 267.4V254.25M54.68 267.4V246.59M55.01 267.4V258.79M55.35 267.4V244.96M55.68 267.4V256.3M56.01 267.4V258.77M56.35 267.4V259.7M56.68 267.4V257.41M57.01 267.4V260.49M57.35 267.4V259.32M57.68 267.4V259.9M58.01 267.4V258.04M58.35 267.4V259.8M58.68 267.4V254.25M59.01 267.4V258.04M59.35 267.4V246.96M59.68 267.4V258.38M60.01 267.4V252.81M60.35 267.4V247.42M60.68 267.4V258.11M61.01 267.4V247.59M61.35 267.4V257.07M61.68 267.4V258.84M62.01 267.4V247.77M62.35 267.4V252.14M62.68 267.4V257.62M63.01 267.4V251.11M63.35 267.4V257.26M63.68 267.4V259.38M64 267.4V258.52M64.34 267.4V259.22M64.67 267.4V260.63M65 267.4V256.15M65.34 267.4V260.8M65.67 267.4V256.01M66 267.4V259.25M66.34 267.4V259.64M66.67 267.4V257.65M67 267.4V253.27M67.34 267.4V257.86M67.67 267.4V260.38M68 267.4V249.08M68.34 267.4V252.82M68.67 267.4V256.2M69 267.4V249.22M69.34 267.4V258.45M69.67 267.4V253.88M70 267.4V260.91M70.34 267.4V260.75M70.67 267.4V254.72M71 267.4V259.94M71.34 267.4V260.79M71.67 267.4V257.85M72 267.4V258.54M72.34 267.4V259.04M72.67 267.4V261.53M73 267.4V261.41M73.34 267.4V260.94M73.67 267.4V252.57M74 267.4V259.5M74.34 267.4V262.02M74.67 267.4V260.86M75 267.4V258.89M75.34 267.4V257.67M75.67 267.4V258.56M76 267.4V259.94M76.34 267.4V260.39M76.67 267.4V257.68M77 267.4V260.65M77.34 267.4V261.34M77.67 267.4V261.11M78 267.4V257.1M78.34 267.4V254.38M78.67 267.4V260.88M79 267.4V255.99M79.34 267.4V259.57M79.67 267.4V261.06M80 267.4V260.84M80.34 267.4V255.77M80.67 267.4V261.41M81 267.4V253.95M81.34 267.4V261.18M81.67 267.4V260.18M82 267.4V259.6M82.34 267.4V258.62M82.67 267.4V258.66M83 267.4V261.26M83.34 267.4V259.53M83.67 267.4V254.54M84 267.4V259.9M84.34 267.4V260.9M84.67 267.4V260.39M85 267.4V262.32M85.34 267.4V258.93M85.67 267.4V256.84M86 267.4V261.51M86.34 267.4V257.64M86.67 267.4V255.6M87 267.4V261.79M87.34 267.4V261.54M87.67 267.4V258.26M88 267.4V255.05M88.34 267.4V261.44M88.67 267.4V257.28M89 267.4V259.34M89.34 267.4V259.73" stroke="#9ac94f" stroke-width="0.45" fill="none"/>
<polygon points="12.45,267.4 12.45,254.81 13.45,253.35 14.45,252.17 15.45,252.91 16.45,254.85 17.45,253.46 18.45,251.43 19.45,253.5 20.45,253.65 21.45,251.5 22.45,253.41 23.45,253.35 24.45,253.1 25.45,253.58 26.45,255.77 27.45,254.98 28.45,253.27 29.45,255.47 30.45,253.15 31.45,253.01 32.45,255.32 33.45,255.4 34.45,255.46 35.45,257.27 36.45,257.41 37.45,257.69 38.45,254.89 39.45,255.96 40.45,257.41 41.45,257.23 42.45,258.14 43.45,257.67 44.45,257.83 45.45,257.52 46.45,257.87 47.45,259.35 48.45,259.63 49.45,259.41 50.45,259.75 51.45,258.9 52.45,260.51 53.45,259.12 54.45,260.09 55.45,260.21 56.45,261.23 57.45,261.32 58.45,261.06 59.45,260.77 60.45,260.58 61.45,260.63 62.45,261.35 63.45,260.48 64.45,261.15 65.45,262.17 66.45,260.56 67.45,260.98 68.45,260.92 69.45,261.26 70.45,262.27 71.45,262.11 72.45,262.54 73.45,262.03 74.45,262.35 75.45,261.97 76.45,261.63 77.45,261.55 78.45,262.54 79.45,262.68 80.45,262.99 81.45,262.04 82.45,262.25 83.45,262.92 84.45,263.18 85.45,263.3 86.45,262.68 87.45,263.37 88.45,262.83 88.45,267.4" fill="#9ac94f"/>
<polyline points="90.5,267 91.62,266.43 92.75,266.47 93.88,266.12 95,265.6 96,265.83 97,265.16 98,265.12 99,264.96 100,265.2 101,264.95 102,265.4 103,264.85 104,265.2 105,264.91 106,264.97 107,265.09 108,265.45 109,265.23 110,264.69 111,264.92 112,264.8 113,265.44 114,265.38 115,265.37 116,265.38 117,265.3 118,265.48 119,265.33 120,264.84 121,265.37 122,265.03 123,265.27 124,265.09 125,264.96 126,264.9 127,264.95 128,264.84 129,264.65 130,265.28 131,265.25 132,265.41 133,265.14 134,265.01 135,265.18 136,264.62 137,265.1 138,264.88 139,264.64 140,264.65 141,264.93 142,264.68 143,264.86 144,264.99 145,264.79 146,264.55 147,264.86 148,264.63 149,264.62 150,264.58 151,264.72 152,264.45 153,264.97 154,265.23 155,264.72 156,265 157,265.19 158,264.38 159,264.46 160,265.06 161,265.08 162,264.89 163,264.45 164,264.67 165,265.08 166,265.09 167,265 168,264.46 169,265.04 170,264.6 171,264.9 172,264.37 173,265.11 174,264.78 175,264.88 176,264.41 177,264.77 178,264.73 179,264.73 180,264.51 181,264.84 182,264.48 183,264.43 184,264.31 185,264.77 186,264.25 187,264.34 188,264.2 189,264.71 190,264.62 191,264.6 192,264.14 193,264.49 194,264.4 195,264.17 196,264.08 197,264.97 198,264.17 199,264.33 200,264.5 201,264.29 202,264.58 203,264.11 204,264.46 205,264.36 206,264.78 207,264.03 208,264.32 209,264.47 210,264.89 211,264.48 212,264.44 213,264.61 214,264.27 215,264.03 216,264.45 217,264.81 218,264.66 219,264.22 220,264.6 221,264.74 222,264.21 223,264.5 224,264.29 225,264.19 226,264.22 227,264.14 228,264.27 229,263.99 230,264.31 231,264.03 232,264.63 233,264.48 234,263.94 235,264.63 236,264.1 237,264.36 238,264.42 239,264.22 240,264.18 241,264.31 242,264.03 243,264.69 244,264.01 245,264.64 246,264.09 247,264.17 248,264.24 249,263.92 250,264 251,264.21 252,264.28 253,264.66 254,264.76 255,263.91 256,264.35 257,263.98 258,264.58 259,264.15 260,264.66 261,264.34 262,263.96 263,263.85 264,264.06 265,264.62 266,263.97 267,264.26 268,264.16 269,264.13 270,264.54 271,264.01 272,264.46 273,264.41 274,264.65 275,264.27 276,264.63 277,264.19 278,264.31 279,264.35 280,264.54 281,264.59 282,263.88 283,263.9 284,264.25 285,264.5 286,264.25 287,264.03 288,264.62 289,264.02 290,263.83 291,263.8 292,263.77 293,264.4 294,263.84 295,264.38 296,264.51 297,264.63 298,264.45 299,264.1 300,264.28 301,264.47 302,264.36 303,263.97 304,264.39 305,263.8 306,263.98 307,264.59 308,264.12 309,263.93 310,264.39 311,264.09 312,263.68 313,263.7 314,263.91 315,263.97 316,264.51 317,263.89 318,264.42 319,264.42 320,264.03 321,264.1" fill="none" stroke="#9ac94f" stroke-width="1.5"/>
<line x1="157.9" y1="264.5" x2="157.9" y2="249.3" stroke="#9ac94f" stroke-width="0.9"/>
<line x1="160.4" y1="264.5" x2="160.4" y2="249.3" stroke="#9ac94f" stroke-width="0.9"/>
<line x1="211.3" y1="264" x2="211.3" y2="248.2" stroke="#9ac94f" stroke-width="0.9"/>
<line x1="260" y1="264" x2="260" y2="245.4" stroke="#9ac94f" stroke-width="0.9"/>
<polyline points="64,189.5 75,174 82,163 89,154.5 96.3,162 104,166.5 114.3,169.2 120.3,169.5 130,174 140,182.5 150,191 153.5,194.7 158.5,203.1 163,194 168.4,182 174,175 179.6,171.5 185.7,184.3 196.7,192.8 204,198 211.4,204.3 220,193 228.5,181.8 232.7,176.4 239.6,183 244.5,184.6 249.4,182.3 253.3,190.5 257.3,194.8 265.1,189.5 271,187.5 278.8,185.6 285.8,183.6 295.5,178.8 301.8,184.8 311.3,187.6 316.5,189.6 324.6,178.8" fill="none" stroke="#bf2d33" stroke-width="1.65" stroke-dasharray="1.6 2.3" stroke-linejoin="round"/>
<polyline points="11.75,268 27.25,268 97.2,181.5 123.7,181.5 158.3,217 171,202.6 196.7,202.6 208.5,214.7 212.6,214.7 220,206.5 245.5,206.5 253,213 261.6,213 266.1,208.1 292.1,208.1 294.6,211.1 317.8,211.1" fill="none" stroke="#4451aa" stroke-width="1.3" stroke-linejoin="round"/>
<text x="17.6" y="27.9" class="sb" font-size="16.8">a</text>
<text x="28.3" y="28.35" class="sb" font-size="19">)</text>
<text x="44.4" y="29.3" class="sb" font-size="15.8" textLength="51.2" lengthAdjust="spacingAndGlyphs">#26014</text>
<text x="18.8" y="163.1" class="sb" font-size="17.2">b</text>
<text x="30.1" y="163.55" class="sb" font-size="19">)</text>
<text x="44.4" y="164.4" class="sb" font-size="15.8" textLength="51.2" lengthAdjust="spacingAndGlyphs">#26004</text>
<text x="192.9" y="22.9" class="sb" fill="#bf2d33" font-size="13.4" textLength="44.2" lengthAdjust="spacingAndGlyphs">Locking</text>
<text x="192.7" y="36.3" class="sb" fill="#bf2d33" font-size="13.3" textLength="71.6" lengthAdjust="spacingAndGlyphs">(Disruption)</text>
<path d="M252.9 20.9h7.5" stroke="#bf2d33" stroke-width="1.7"/><path d="M264.2 20.9l-4.4-2.1v4.2z" fill="#bf2d33"/>
<text x="38.3" y="83.6" class="sbi" fill="#3d49a6" font-size="16.7">I</text>
<text x="46.1" y="86.9" class="srb" fill="#3d49a6" font-size="12" textLength="27" lengthAdjust="spacingAndGlyphs">RMP</text>
<text x="78.7" y="84" class="sb" fill="#3d49a6" font-size="16.4" textLength="28" lengthAdjust="spacingAndGlyphs">[kA]</text>
<text x="72.3" y="229.2" class="sbi" fill="#3d49a6" font-size="16.7">I</text>
<text x="80.1" y="233.2" class="srb" fill="#3d49a6" font-size="12" textLength="27" lengthAdjust="spacingAndGlyphs">RMP</text>
<text x="112.7" y="230.6" class="sb" fill="#3d49a6" font-size="16.4" textLength="28" lengthAdjust="spacingAndGlyphs">[kA]</text>
<text x="237.0" y="95.6" class="sbi" fill="#652c9e" font-size="17.5">&#946;</text>
<text x="247.8" y="98.9" class="srb" fill="#652c9e" font-size="10" textLength="9" lengthAdjust="spacingAndGlyphs">N</text>
<text x="172.8" y="159.9" class="sb" fill="#bf2d33" font-size="13.2" textLength="110.5" lengthAdjust="spacingAndGlyphs">Locking thresholds</text>
<text x="287.0" y="160.2" class="sb" fill="#bf2d33" font-size="13.2">(</text>
<text x="291.9" y="160.3" class="sbi" fill="#bf2d33" font-size="13.5">I</text>
<text x="298.3" y="162.6" class="srb" fill="#bf2d33" font-size="10" textLength="18.1" lengthAdjust="spacingAndGlyphs">L,th</text>
<text x="317.0" y="160.2" class="sb" fill="#bf2d33" font-size="13.2">)</text>
<path d="M203.6 168.3L199.4 175.8" stroke="#bf2d33" stroke-width="1.4"/><path d="M197.1 179.4l0.3-4.9 3.6 2.1z" fill="#bf2d33"/>
<text x="296.3" y="253.8" class="sbi" fill="#6eaa3c" font-size="18.3" textLength="12.4" lengthAdjust="spacingAndGlyphs">D</text>
<text x="309.5" y="256.8" class="srb" fill="#6eaa3c" font-size="12.4" textLength="7.6" lengthAdjust="spacingAndGlyphs">&#945;</text>
<text x="142.6" y="301.8" class="sb" font-size="13.9" textLength="52.4" lengthAdjust="spacingAndGlyphs">Time [s]</text>
</svg>
</body></html>
